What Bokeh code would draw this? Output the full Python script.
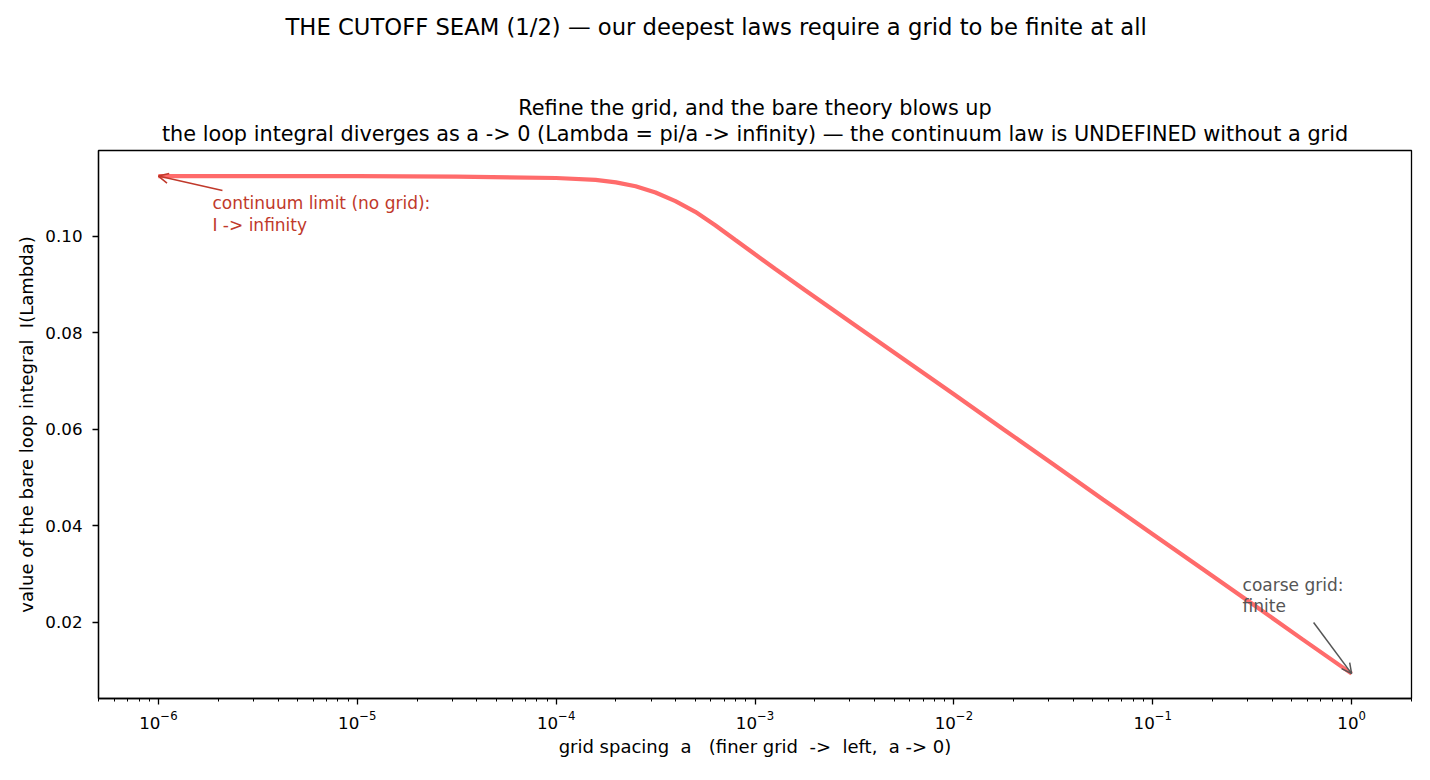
from bokeh.plotting import figure
from bokeh.models import Title, Arrow, OpenHead, Label, FixedTicker, PrintfTickFormatter, Range1d
from bokeh.embed import file_html
from bokeh.resources import INLINE

FONT = "DejaVu Sans"
RED = "#c0392b"
GRAY = "#555555"
LINE = "#ff6b6b"
NB = "\u00a0"

# grid spacing a
a = [1e-6, 3.16e-6, 1e-5, 3.16e-5, 1e-4, 1.58e-4, 2.0e-4, 2.51e-4, 3.16e-4,
     3.98e-4, 5.01e-4, 6.31e-4, 7.94e-4, 1e-3, 1.26e-3, 1.78e-3, 3.16e-3,
     5.62e-3, 1e-2, 1.78e-2, 3.16e-2, 5.62e-2, 0.1, 0.178, 0.316, 0.562, 1.0]
# bare loop integral I(Lambda)
I = [0.1125, 0.1125, 0.1125, 0.1124, 0.1121, 0.1117, 0.1112, 0.1104, 0.1091,
     0.1073, 0.1051, 0.1023, 0.0993, 0.0963, 0.0933, 0.0889, 0.0817,
     0.0745, 0.0673, 0.0600, 0.0528, 0.0455, 0.0383, 0.0311, 0.0239, 0.0166, 0.0094]

x_ticks = [1e-6, 1e-5, 1e-4, 1e-3, 1e-2, 1e-1, 1.0]
y_ticks = [0.02, 0.04, 0.06, 0.08, 0.10]

p = figure(width=1414, height=764, x_axis_type="log",
           x_range=Range1d(5.0e-7, 2.0), y_range=Range1d(0.00425, 0.1178),
           output_backend="svg", toolbar_location=None, title=None,
           min_border_left=98, min_border_right=3, min_border_top=150, min_border_bottom=66)
p.background_fill_color = "white"
p.border_fill_color = "white"
p.xgrid.visible = False
p.ygrid.visible = False
p.outline_line_color = "black"
p.outline_line_width = 1.3

p.line(a, I, line_color=LINE, line_width=4.2)


def spacer(px):
    return Title(text=" ", text_font_size="1px", standoff=px)


def heading(text, size, **kw):
    return Title(text=text, text_font=FONT, text_font_size=size, text_font_style="normal",
                 text_color="black", **kw)


# titles, stacked outward from the plot frame
p.add_layout(spacer(1.5), "above")
p.add_layout(heading("the loop integral diverges as a -> 0 (Lambda = pi/a -> infinity) \u2014 "
                     "the continuum law is UNDEFINED without a grid", "20.8px",
                     align="center", standoff=0, text_line_height=0.9), "above")
p.add_layout(heading("Refine the grid, and the bare theory blows up", "20.8px",
                     align="center", standoff=0), "above")
p.add_layout(spacer(51), "above")
p.add_layout(heading("THE CUTOFF SEAM (1/2) \u2014 our deepest laws require a grid to be finite at all",
                     "22.7px", align="left", offset=187, standoff=0), "above")

# axes
xa = p.xaxis[0]
ya = p.yaxis[0]
xa.ticker = FixedTicker(ticks=x_ticks,
                        minor_ticks=[m * 10.0 ** e for e in range(-7, 1) for m in range(2, 10)])
ya.ticker = FixedTicker(ticks=y_ticks)
ya.formatter = PrintfTickFormatter(format="%.2f")
xa.axis_label = ("grid spacing" + NB + " a" + NB + NB + " (finer grid" + NB + " ->" + NB
                 + " left," + NB + " a -> 0)")
ya.axis_label = "value of the bare loop integral" + NB + " I(Lambda)"
for ax in (xa, ya):
    ax.major_label_text_font = FONT
    ax.major_label_text_font_size = "16.7px"
    ax.major_label_text_color = "black"
    ax.axis_label_text_font = FONT
    ax.axis_label_text_font_size = "18px"
    ax.axis_label_text_font_style = "normal"
    ax.axis_label_text_color = "black"
    ax.axis_line_color = "black"
    ax.axis_line_width = 1.3
    ax.major_tick_line_color = "black"
    ax.major_tick_line_width = 1.3
    ax.major_tick_out = 6
    ax.major_tick_in = 0
    ax.minor_tick_line_color = "black"
    ax.minor_tick_line_width = 1.0
    ax.minor_tick_out = 3
    ax.minor_tick_in = 0
xa.major_label_standoff = 6
ya.major_label_standoff = 10
xa.axis_label_standoff = 4
ya.axis_label_standoff = 5
ya.minor_tick_line_color = None

# annotations
p.add_layout(Arrow(end=OpenHead(size=10, line_color=RED, line_width=1.5),
                   x_start=2.1e-6, y_start=0.1095, x_end=a[0], y_end=I[0],
                   line_color=RED, line_width=1.5))
p.add_layout(Label(x=1.87e-6, y=0.1089, text="continuum limit (no grid):\nI -> infinity",
                   text_color=RED, text_font=FONT, text_font_size="17px",
                   text_baseline="top", text_line_height=1.055))
p.add_layout(Arrow(end=OpenHead(size=10, line_color=GRAY, line_width=1.5),
                   x_start=0.644, y_start=0.0200, x_end=a[-1], y_end=I[-1],
                   line_color=GRAY, line_width=1.5))
p.add_layout(Label(x=0.283, y=0.0299, text="coarse grid:\nfinite",
                   text_color=GRAY, text_font=FONT, text_font_size="17px",
                   text_baseline="top", text_line_height=1.055))

open("out.html", "w").write(file_html(p, INLINE))
